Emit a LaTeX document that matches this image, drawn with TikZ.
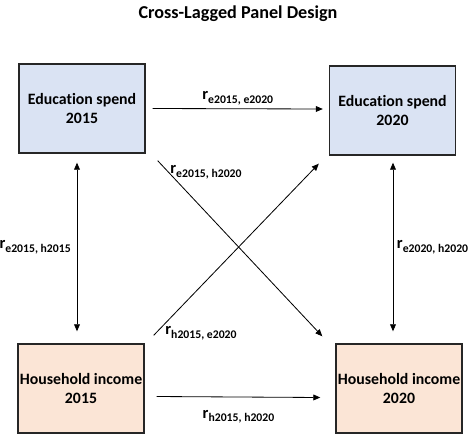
\documentclass[tikz,border=0pt]{standalone}
\usepackage{fontspec}
\setmainfont{Carlito}[Ligatures=NoCommon]
\usetikzlibrary{arrows.meta, calc}

\definecolor{spendblue}{HTML}{DAE3F3}
\definecolor{incomepeach}{HTML}{FBE5D6}

\newcommand{\rcoef}[1]{r\raisebox{-3pt}{\fontsize{10}{12}\selectfont #1}}

\tikzset{
    varbox/.style={draw=black!85, line width=1.2pt, minimum width=3.78cm, minimum height=2.67cm,
        align=center, inner sep=1pt, font=\fontsize{13.5}{17}\selectfont\bfseries},
    coef/.style={inner sep=1pt, font=\fontsize{14}{16}\selectfont\bfseries},
    link/.style={-{Triangle[length=6pt, width=5pt]}, line width=0.7pt},
    dlink/.style={{Triangle[length=6pt, width=5pt]}-{Triangle[length=6pt, width=5pt]}, line width=0.7pt}
}

\begin{document}
\begin{tikzpicture}[x=0.03cm, y=-0.03cm]
    \useasboundingbox (0,0) rectangle (474,443);
    \node[font=\fontsize{15.5}{18}\selectfont\bfseries] (title) at (238,14) {Cross-Lagged Panel Design};

    % the four measures
    \node[varbox, fill=spendblue] (es15) at (82,108.5) {Education spend\\2015};
    \node[varbox, fill=spendblue] (es20) at (392.5,110.5) {Education spend\\2020};
    \node[varbox, fill=incomepeach] (hi15) at (81,388.5) {Household income\\2015};
    \node[varbox, fill=incomepeach] (hi20) at (399,388.5) {Household income\\2020};

    % stability paths
    \draw[link] ($(es15.east)+(7,0)$) -- ($(es20.west)+(-6,-1.5)$)
        node[coef, midway, above=2pt] (res) {\rcoef{e2015, e2020}};
    \draw[link] ($(hi15.east)+(12,8)$) -- ($(hi20.west)+(-15,9)$)
        node[coef, midway, below=10pt] (rhh) {\rcoef{h2015, h2020}};

    % synchronous correlations
    \draw[dlink] ($(es15.south)+(-5,9)$) -- ($(hi15.north)+(-4,-12)$)
        node[coef, midway, left=4pt] (reh15) {\rcoef{e2015, h2015}};
    \draw[dlink] ($(es20.south)+(0.5,7)$) -- ($(es20.south |- hi20.north)+(0.5,-12)$)
        node[coef, midway, right=2pt] (reh20) {\rcoef{e2020, h2020}};

    % cross-lagged paths
    \draw[link] ($(es15.south east)+(12,7)$) -- ($(hi20.north west)+(-13,-7)$);
    \draw[link] ($(hi15.north east)+(9,-8)$) -- ($(es20.south west)+(-10,8)$);
    \node[coef] (rcross1) at (206,172) {\rcoef{e2015, h2020}};
    \node[coef] (rcross2) at (201,333) {\rcoef{h2015, e2020}};
\end{tikzpicture}
\end{document}
